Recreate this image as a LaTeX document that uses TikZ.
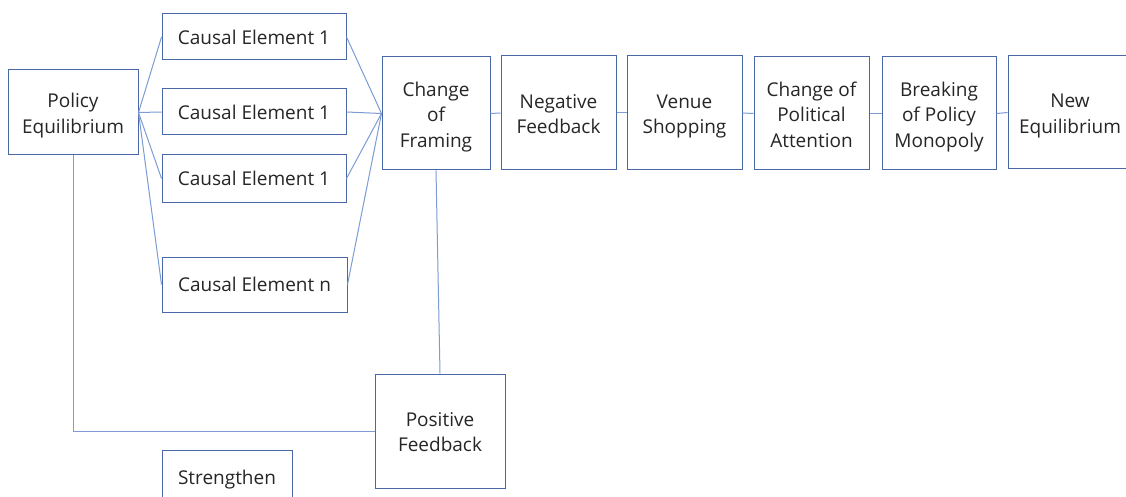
\documentclass[tikz,border=0pt]{standalone}
\usepackage{fontspec}
\setmainfont{Open Sans}
\definecolor{boxblue}{RGB}{72,104,168}
\definecolor{lineblue}{RGB}{125,155,212}
\definecolor{txt}{RGB}{38,38,38}
\newcommand\mltext[1]{\raisebox{-3pt}[\height][\depth]{\begin{tabular}{@{}c@{}}#1\end{tabular}}}
\begin{document}
\begin{tikzpicture}[x=1pt,y=-1pt,
  box/.style={draw=boxblue,line width=1pt,rectangle,inner sep=0pt,
    text=txt,font=\fontsize{19}{25.5}\selectfont},
  conn/.style={draw=lineblue,line width=1pt}]
\useasboundingbox (0,0) rectangle (1126,497);
\clip (0,0) rectangle (1126,497);
\fill[white] (0,0) rectangle (1126,497);
\node[box,minimum width=130pt,minimum height=85pt] (pe) at (73,112.5) {\mltext{Policy\\Equilibrium}};
\node[box,minimum width=184pt,minimum height=46pt] (c1) at (254,37) {Causal Element 1};
\node[box,minimum width=184pt,minimum height=46pt] (c2) at (254,112) {Causal Element 1};
\node[box,minimum width=184pt,minimum height=47pt] (c3) at (254,178.5) {Causal Element 1};
\node[box,minimum width=185pt,minimum height=55pt] (cn) at (254.5,284.5) {Causal Element n};
\node[box,minimum width=108pt,minimum height=113pt] (cf) at (436,113.5) {\mltext{Change\\of\\Framing}};
\node[box,minimum width=115pt,minimum height=114pt] (nf) at (558.5,113) {\mltext{Negative\\Feedback}};
\node[box,minimum width=115pt,minimum height=114pt] (vs) at (684.5,113) {\mltext{Venue\\Shopping}};
\node[box,minimum width=115pt,minimum height=113pt] (cpa) at (811.5,113.5) {\mltext{Change of\\Political\\Attention}};
\node[box,minimum width=114pt,minimum height=113pt] (bpm) at (939,113.5) {\mltext{Breaking\\of Policy\\Monopoly}};
\node[box,minimum width=124pt,minimum height=113pt] (ne) at (1070,112.5) {\mltext{New\\Equilibrium}};
\node[box,minimum width=130pt,minimum height=114pt] (pf) at (440,431) {\mltext{Positive\\Feedback}};
\node[box,minimum width=130pt,minimum height=60pt] (st) at (227,480) {Strengthen};
\foreach \c in {c1,c2,c3,cn}{
  \draw[conn] (pe.east) -- (\c.west);
  \draw[conn] (\c.east) -- (cf.west);
}
\draw[conn] (cf.east) -- (nf.west);
\draw[conn] (nf.east) -- (vs.west);
\draw[conn] (vs.east) -- (cpa.west);
\draw[conn] (cpa.east) -- (bpm.west);
\draw[conn] (bpm.east) -- (ne.west);
\draw[conn] (cf.south) -- (pf.north);
\draw[conn] (pe.south) -- (pe.south |- pf.west) -- (pf.west);
\end{tikzpicture}
\end{document}
